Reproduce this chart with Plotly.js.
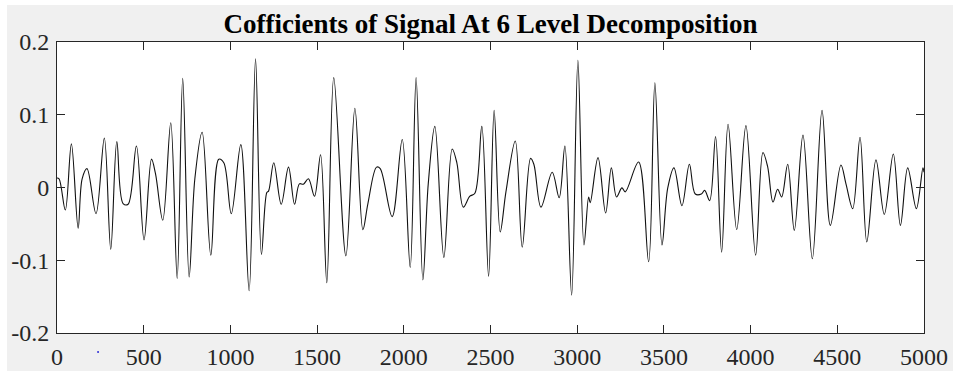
<!DOCTYPE html>
<html>
<head>
<meta charset="utf-8">
<script src="https://cdn.plot.ly/plotly-3.0.1.min.js"></script>
<style>
  html, body { margin: 0; padding: 0; background: #ffffff; width: 954px; height: 371px; overflow: hidden; }
  #chart { position: absolute; left: 7px; top: 5px; width: 946px; height: 366px; }
</style>
</head>
<body>
<div id="chart"></div>
<script>
// Sample index of each turning point
const sampleIndex = [0, 12, 48, 83, 122, 145, 173, 225, 273, 310, 345, 381, 410, 458, 502, 545, 568, 610, 656, 693,
  725, 762, 795, 837, 887, 933, 962, 1005, 1060, 1108, 1145, 1179, 1210, 1220, 1250, 1293, 1335, 1370, 1398, 1421,
  1450, 1485, 1520, 1556, 1596, 1666, 1718, 1764, 1793, 1843, 1864, 1933, 1991, 2037, 2071, 2110, 2141, 2179, 2231, 2279,
  2306, 2343, 2381, 2410, 2450, 2489, 2521, 2556, 2589, 2643, 2683, 2731, 2750, 2791, 2856, 2896, 2929, 2968, 3004, 3039,
  3066, 3075, 3120, 3164, 3197, 3227, 3258, 3277, 3354, 3412, 3448, 3489, 3522, 3558, 3604, 3647, 3681, 3716, 3735, 3764,
  3798, 3833, 3870, 3920, 3973, 4029, 4071, 4098, 4129, 4156, 4179, 4214, 4252, 4302, 4356, 4412, 4460, 4521, 4550, 4589,
  4631, 4670, 4723, 4771, 4823, 4864, 4906, 4956, 4994, 5000];

// Coefficient value at each of those points
const coefficient = [0.013, 0.012, -0.031, 0.060, -0.056, 0.012, 0.026, -0.036, 0.068, -0.085, 0.063, -0.022, -0.023, 0.057, -0.072, 0.039, 0.019, -0.045, 0.089, -0.125,
  0.150, -0.123, 0.012, 0.076, -0.093, 0.039, 0.034, -0.036, 0.059, -0.142, 0.177, -0.092, -0.007, -0.005, 0.034, -0.023, 0.028, -0.023, 0.005, 0.0045,
  0.012, -0.012, 0.045, -0.131, 0.151, -0.094, 0.109, -0.058, -0.022, 0.028, 0.026, -0.040, 0.066, -0.110, 0.151, -0.127, 0.005, 0.084, -0.096, 0.053,
  0.034, -0.027, -0.012, -0.008, 0.084, -0.122, 0.106, -0.061, -0.006, 0.064, -0.082, 0.040, 0.032, -0.027, 0.021, -0.014, 0.057, -0.148, 0.175, -0.079,
  -0.013, -0.021, 0.041, -0.035, 0.027, -0.013, -0.0005, -0.006, 0.035, -0.102, 0.144, -0.079, -0.001, 0.027, -0.025, 0.032, -0.009, -0.009, -0.004, -0.018,
  0.070, -0.089, 0.087, -0.058, 0.085, -0.093, 0.048, 0.029, -0.020, -0.0024, -0.013, 0.032, -0.059, 0.072, -0.098, 0.106, -0.052, 0.031, 0.005, -0.029,
  0.069, -0.075, 0.038, -0.037, 0.046, -0.052, 0.027, -0.029, 0.027, 0.021];

const xTickValues = [0, 500, 1000, 1500, 2000, 2500, 3000, 3500, 4000, 4500, 5000];
const xTickLabels = ['0', '500', '1000', '1500', '2000', '2500', '3000', '3500', '4000', '4500', '5000'];
const yTickValues = [-0.2, -0.1, 0, 0.1, 0.2];
const yTickLabels = ['-0.2', '-0.1', '0', '0.1', '0.2'];
const chartTitle = 'Cofficients of Signal At 6 Level Decomposition';

const axisColor = '#262626';
const serif = 'Liberation Serif, Times New Roman, serif';

const trace = {
  x: sampleIndex,
  y: coefficient,
  type: 'scatter',
  mode: 'lines',
  line: { color: '#111111', width: 1.1, shape: 'spline', smoothing: 1 },
  hoverinfo: 'x+y'
};

const layout = {
  width: 946,
  height: 366,
  paper_bgcolor: '#f0f0f0',
  plot_bgcolor: '#ffffff',
  margin: { l: 50, r: 29, t: 37, b: 38, pad: 0 },
  showlegend: false,
  title: {
    text: '<b>' + chartTitle + '</b>',
    font: { family: serif, size: 27, color: '#000000' },
    x: (50 + 867 / 2) / 946,
    xanchor: 'center',
    xref: 'container',
    y: 1 - 19 / 366,
    yanchor: 'middle',
    yref: 'container'
  },
  xaxis: {
    range: [0, 5000],
    tickvals: xTickValues,
    ticktext: xTickLabels,
    ticks: 'inside',
    ticklen: 8,
    tickwidth: 1,
    tickcolor: axisColor,
    showline: true,
    linecolor: axisColor,
    linewidth: 1,
    mirror: 'ticks',
    showgrid: false,
    zeroline: false,
    tickfont: { family: serif, size: 24, color: '#262626' },
    ticklabelstandoff: 2
  },
  yaxis: {
    range: [-0.2, 0.2],
    tickvals: yTickValues,
    ticktext: yTickLabels,
    ticks: 'inside',
    ticklen: 8,
    tickwidth: 1,
    tickcolor: axisColor,
    showline: true,
    linecolor: axisColor,
    linewidth: 1,
    mirror: 'ticks',
    showgrid: false,
    zeroline: false,
    tickfont: { family: serif, size: 24, color: '#262626' },
    ticklabelstandoff: 2
  },
  shapes: [
    { type: 'circle', xref: 'paper', yref: 'paper', layer: 'above',
      x0: 0.0462, x1: 0.0485, y0: -0.0690, y1: -0.0621,
      fillcolor: '#2b2bd6', line: { width: 0 } }
  ]
};

Plotly.newPlot('chart', [trace], layout, { displayModeBar: false, staticPlot: true });
</script>
</body>
</html>
